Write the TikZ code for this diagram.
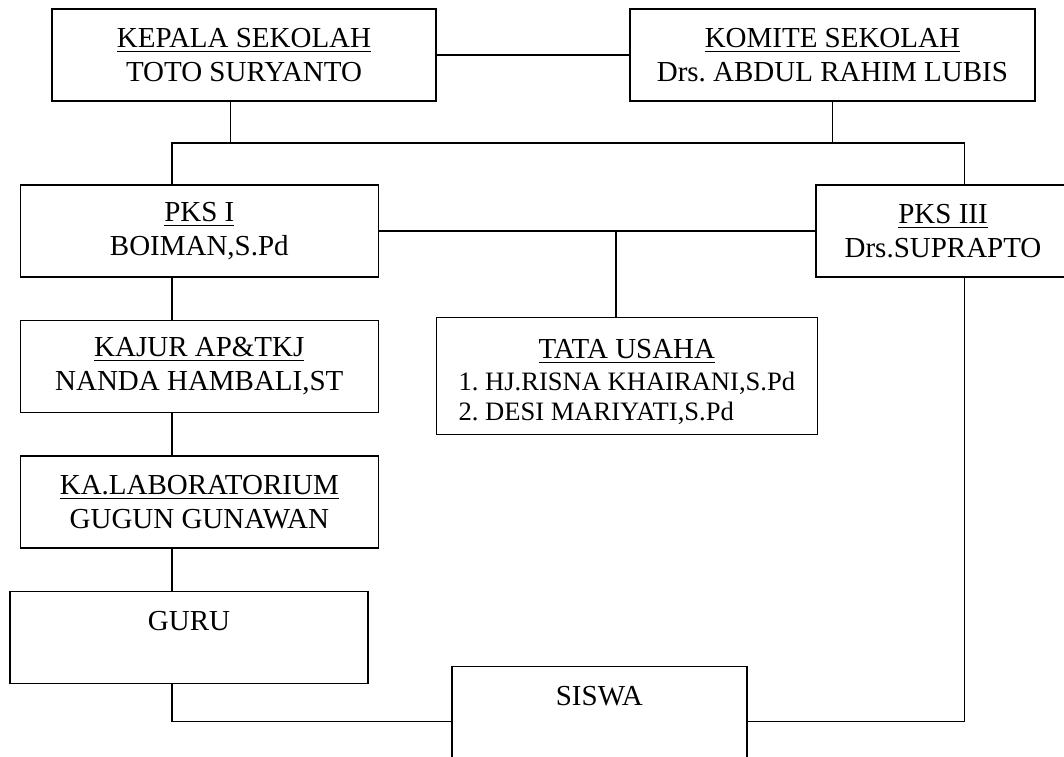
\documentclass[tikz,border=0pt]{standalone}
\usepackage{fontspec}
\setmainfont{Liberation Serif}
\usetikzlibrary{positioning}
\frenchspacing
\tikzset{
  jab/.style={draw, line width=0.6pt, align=center, inner sep=2pt,
    font=\fontsize{12}{14}\selectfont, minimum width=#1, minimum height=1.34cm},
  jab/.default={5.21cm},
}

\begin{document}
\begin{tikzpicture}[line width=0.6pt, node distance=0.61cm]
\useasboundingbox (0,0) rectangle (15.48,-11.01);
% --- pimpinan
\node[jab=5.59cm] (ks) at (3.55,-0.80) {\underline{KEPALA SEKOLAH}\\TOTO SURYANTO};
\node[jab=5.89cm] (kom) at (12.11,-0.80) {\underline{KOMITE SEKOLAH}\\Drs. ABDUL RAHIM LUBIS};
% --- wakil dan tata usaha
\node[jab] (p1) at (2.90,-3.36) {\underline{PKS I}\\BOIMAN,S.Pd};
\node[jab=3.70cm] (p3) at (13.72,-3.36) {\underline{PKS III}\\Drs.SUPRAPTO};
\node[jab=5.54cm, minimum height=1.66cm] (tu) at (9.12,-5.47) {\rule{0pt}{15pt}\underline{TATA USAHA}\\[-1pt]{\fontsize{11}{12.6}\selectfont\begin{tabular}[t]{@{}l@{}}1. HJ.RISNA KHAIRANI,S.Pd\\2. DESI MARIYATI,S.Pd\end{tabular}}};
% --- kolom kiri
\node[jab, below=of p1] (kj) {\underline{KAJUR AP\&TKJ}\\NANDA HAMBALI,ST};
\node[jab, below=of kj] (lab) {\underline{KA.LABORATORIUM}\\GUGUN GUNAWAN};
\node[jab, below=of lab, xshift=-0.15cm] (gr) {GURU\\~};
\node[jab=4.29cm] (sw) at (8.72,-10.37) {SISWA\\~};
% --- garis
\coordinate (b1) at (2.50,-2.08);
\coordinate (b2) at (14.03,-2.08);
\coordinate (sy) at (0,-10.50);
\coordinate (kd) at ([xshift=-0.20cm]ks.south);
\coordinate (td) at ([xshift=-0.16cm]tu.north);
\draw (ks) -- (kom);
\draw (kd) -- (kd |- b1);
\draw (kom.south) -- (kom.south |- b1);
\draw (p1.north -| b1) |- (b2) -- (p3.north -| b2);
\draw (p1.east) -- (p3.west);
\draw (td) -- (td |- p1.east);
\foreach \a/\b in {p1/kj, kj/lab, lab/gr}
  \draw (\a.south -| b1) -- (\b.north -| b1);
\draw (gr.south -| b1) |- (sw.west |- sy);
\draw (p3.south -| b2) |- (sw.east |- sy);
\end{tikzpicture}
\end{document}
